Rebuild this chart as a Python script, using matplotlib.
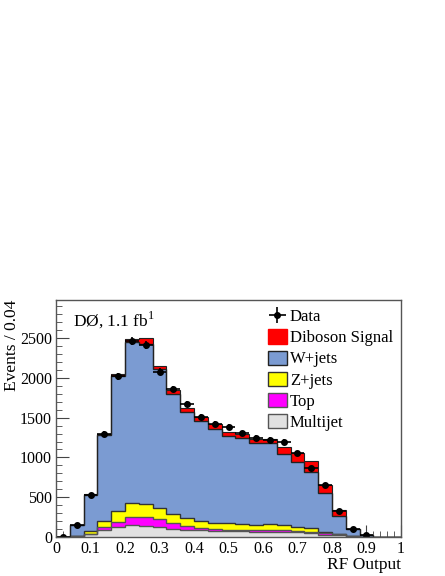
import matplotlib
matplotlib.use("Agg")
import matplotlib.pyplot as plt
import numpy as np
from matplotlib.patches import Patch

# RF output bins (0.04 wide), 25 bins
bin_edges = np.linspace(0, 1, 26)

multijet = [0, 5, 30, 80, 122, 145, 132, 120, 99, 90, 82, 76, 72, 68, 67, 67, 66, 59, 46, 29, 21, 5, 0, 0, 0]
top = [0, 0, 6, 38, 61, 105, 114, 100, 77, 52, 34, 24, 18, 17, 13, 17, 14, 17, 17, 17, 13, 8, 2, 0, 0]
zjets = [0, 0, 34, 78, 147, 177, 166, 140, 114, 92, 82, 78, 78, 75, 72, 74, 67, 54, 46, 21, 2, 1, 0, 0, 0]
wjets = [3, 143, 460, 1089, 1700, 2031, 2017, 1749, 1508, 1337, 1264, 1175, 1105, 1079, 1033, 1018, 891, 815, 710, 479, 229, 84, 23, 0, 0]
diboson = [0, 2, 10, 15, 16, 29, 71, 42, 51, 47, 51, 63, 51, 55, 50, 59, 96, 105, 131, 105, 75, 4, 2, 0, 0]
data = [2, 150, 525, 1294, 2020, 2470, 2416, 2080, 1860, 1672, 1508, 1416, 1387, 1302, 1248, 1218, 1197, 1050, 861, 651, 328, 97, 22, 0, 0]

plt.rcParams['font.family'] = ['Liberation Serif', 'DejaVu Serif']
plt.rcParams['font.size'] = 11.5

fig = plt.figure(figsize=(4.45, 5.76), dpi=100)
ax = fig.add_axes([0.126, 0.068, 0.775, 0.411])

layers = [
    ("Multijet", multijet, "#e1e1e1", "#555555"),
    ("Top", top, "#ff00ff", "#555555"),
    ("Z+jets", zjets, "#ffff00", "#333333"),
    ("W+jets", wjets, "#7b9bd2", "#222222"),
    ("Diboson Signal", diboson, "#ff0000", "#222222"),
]
cum = np.cumsum([np.array(v, dtype=float) for _, v, _, _ in layers], axis=0)

# draw from top of stack downwards
for i in reversed(range(len(layers))):
    name, _, fc, ec = layers[i]
    ax.stairs(cum[i], bin_edges, fill=True, color=fc, zorder=2 + (len(layers) - i) * 0.1)
    if name != "Diboson Signal":
        ax.stairs(cum[i], bin_edges, color=ec, lw=1.0, zorder=2.6)
ax.stairs(cum[-1], bin_edges, color="#222222", lw=0.8, zorder=2.6)

centers = 0.5 * (bin_edges[1:] + bin_edges[:-1])
d = np.array(data, dtype=float)
m = d > 0
eb = ax.errorbar(centers[m], d[m], xerr=0.02, yerr=np.sqrt(d[m]), fmt='o', color='black',
                 ms=4, elinewidth=1.2, capsize=0, zorder=5)

ax.set_xlim(0, 1)
ax.set_ylim(0, 2980)
ax.set_xticks(np.arange(0, 1.01, 0.1))
ax.set_xticklabels(["0", "0.1", "0.2", "0.3", "0.4", "0.5", "0.6", "0.7", "0.8", "0.9", "1"])
ax.set_xticks(np.arange(0, 1.001, 0.02), minor=True)
ax.set_yticks(np.arange(0, 2501, 500))
ax.set_yticks(np.arange(0, 2901, 100), minor=True)
ax.tick_params(which='both', direction='in', top=False, right=False, color='#444444')
ax.tick_params(which='major', length=9, pad=3)
ax.tick_params(which='minor', length=4.5)
for s in ax.spines.values():
    s.set_color('#555555')
    s.set_linewidth(1.0)
    s.set_zorder(6)

ax.set_xlabel("RF Output", loc='right', fontsize=12.5)
ax.xaxis.set_label_coords(1.0, -0.085)
ax.set_ylabel("Events / 0.04", loc='top', fontsize=12.5)
ax.yaxis.set_label_coords(-0.105, 1.0)

ax.text(0.05, 0.96, r"DØ, 1.1 fb$^{\mathregular{1}}$", transform=ax.transAxes,
        ha='left', va='top', fontsize=12.5)

handles = [eb]
labels = ["Data"]
for name, _, fc, ec in reversed(layers):
    if name == "Diboson Signal":
        handles.append(Patch(facecolor=fc, edgecolor=fc))
    else:
        handles.append(Patch(facecolor=fc, edgecolor=ec))
    labels.append(name)
leg = ax.legend(handles, labels, loc='upper left', bbox_to_anchor=(0.615, 0.965), frameon=False,
                borderpad=0, borderaxespad=0, handlelength=1.1, handleheight=0.95,
                handletextpad=0.2, labelspacing=0.25, fontsize=12)
leg.set_zorder(7)

fig.savefig("out.png", dpi=100)
